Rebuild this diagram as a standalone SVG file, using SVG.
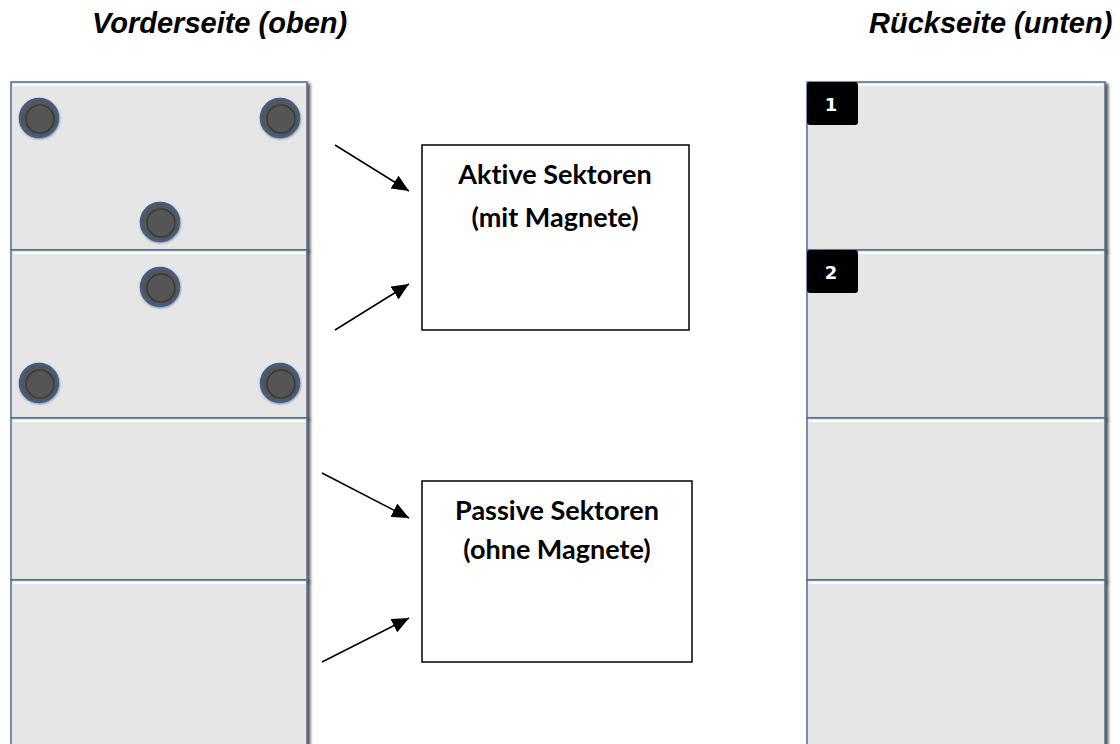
<svg xmlns="http://www.w3.org/2000/svg" width="1120" height="744" viewBox="0 0 1120 744">
<style>
.title{font-family:"Liberation Sans",Arial,sans-serif;font-weight:bold;font-style:italic;font-size:29px;fill:#000}
.panel{fill:#e6e6e6;stroke:#4f6d95;stroke-width:1.5;filter:url(#sh)}
.hl{stroke:#fff;stroke-width:2}
.mag{fill:#555;stroke:#3d5f8a;stroke-width:2.5;filter:url(#ms)}
.magin{fill:none;stroke:#3a3a3a;stroke-width:1.5}
.box{fill:#fff;stroke:#000;stroke-width:1.5}
.lbl{font-family:Lato,"Liberation Sans",sans-serif;font-weight:bold;font-size:27px;fill:#000;text-anchor:middle;font-variant-ligatures:none;font-feature-settings:"liga" 0}
.badge{fill:#000}
.num{font-family:"DejaVu Sans",sans-serif;font-weight:bold;font-size:18px;fill:#fff;text-anchor:middle}
.conn line{stroke:#000;stroke-width:1.5;marker-end:url(#ah)}
</style>
<defs>
<filter id="sh" x="-5%" y="-5%" width="115%" height="115%">
<feDropShadow dx="2.5" dy="2" stdDeviation="1.5" flood-color="#000" flood-opacity="0.7"/>
</filter>
<filter id="ms" x="-30%" y="-30%" width="160%" height="160%">
<feDropShadow dx="0.5" dy="1" stdDeviation="1" flood-color="#000" flood-opacity="0.4"/>
</filter>
<marker id="ah" viewBox="0 0 17 15" refX="17" refY="7.5" markerWidth="17" markerHeight="15" markerUnits="userSpaceOnUse" orient="auto" preserveAspectRatio="none">
<path d="M0,0 L17,7.5 L0,15 z" fill="#000"/>
</marker>
</defs>
<rect width="1120" height="744" fill="#fff"/>
<text class="title" x="92" y="33">Vorderseite (oben)</text>
<text class="title" x="869" y="33">Rückseite (unten)</text>

<g id="front">
<g id="f1"><rect class="panel" x="11" y="82" width="296" height="168"/><line class="hl" x1="13" y1="85" x2="305" y2="85"/>
<circle class="mag" cx="39" cy="118" r="19"/><circle class="magin" cx="40" cy="119" r="14"/>
<circle class="mag" cx="280" cy="118" r="19"/><circle class="magin" cx="281" cy="119" r="14"/>
<circle class="mag" cx="160" cy="222" r="19"/><circle class="magin" cx="161" cy="223" r="14"/></g>
<g id="f2"><rect class="panel" x="11" y="250" width="296" height="168"/><line class="hl" x1="13" y1="253" x2="305" y2="253"/>
<circle class="mag" cx="160" cy="287" r="19"/><circle class="magin" cx="161" cy="288" r="14"/>
<circle class="mag" cx="39" cy="383" r="19"/><circle class="magin" cx="40" cy="384" r="14"/>
<circle class="mag" cx="280" cy="383" r="19"/><circle class="magin" cx="281" cy="384" r="14"/></g>
<g id="f3"><rect class="panel" x="11" y="418" width="296" height="162"/><line class="hl" x1="13" y1="421" x2="305" y2="421"/></g>
<g id="f4"><rect class="panel" x="11" y="580" width="296" height="180"/><line class="hl" x1="13" y1="583" x2="305" y2="583"/></g>
</g>

<g id="back">
<g id="b1"><rect class="panel" x="807" y="82" width="298" height="168"/><line class="hl" x1="809" y1="85" x2="1103" y2="85"/>
<rect class="badge" x="807" y="82" width="51" height="43" rx="3"/><text class="num" x="831" y="111">1</text></g>
<g id="b2"><rect class="panel" x="807" y="250" width="298" height="168"/><line class="hl" x1="809" y1="253" x2="1103" y2="253"/>
<rect class="badge" x="807" y="250" width="51" height="43" rx="3"/><text class="num" x="831" y="279">2</text></g>
<g id="b3"><rect class="panel" x="807" y="418" width="298" height="162"/><line class="hl" x1="809" y1="421" x2="1103" y2="421"/></g>
<g id="b4"><rect class="panel" x="807" y="580" width="298" height="180"/><line class="hl" x1="809" y1="583" x2="1103" y2="583"/></g>
</g>

<g id="aktiv"><rect class="box" x="422" y="145" width="267" height="185"/>
<text class="lbl" x="555" y="184">Aktive Sektoren</text>
<text class="lbl" x="555" y="227">(mit Magnete)</text></g>
<g id="passiv"><rect class="box" x="422" y="481" width="270" height="181"/>
<text class="lbl" x="557" y="520">Passive Sektoren</text>
<text class="lbl" x="557" y="559">(ohne Magnete)</text></g>

<g class="conn" id="connectors">
<line x1="335" y1="145" x2="409" y2="191"/>
<line x1="335" y1="330" x2="409" y2="284"/>
<line x1="322" y1="473" x2="409" y2="518"/>
<line x1="322" y1="662" x2="409" y2="618"/>
</g>
</svg>
